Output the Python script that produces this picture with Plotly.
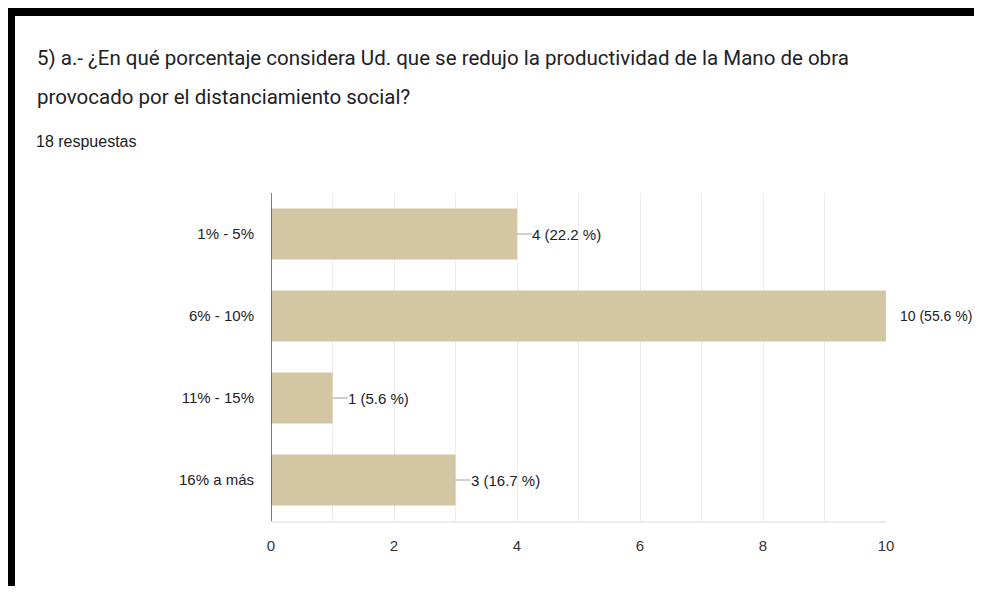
import plotly.graph_objects as go

categories = ["1% - 5%", "6% - 10%", "11% - 15%", "16% a más"]
counts = [4, 10, 1, 3]
percents = [22.2, 55.6, 5.6, 16.7]
x_ticks = [0, 2, 4, 6, 8, 10]

title_line1 = "5) a.- ¿En qué porcentaje considera Ud. que se redujo la productividad de la Mano de obra"
title_line2 = "provocado por el distanciamiento social?"
subtitle = "18 respuestas"

# the page body has an 8px margin, so the figure is drawn at (8, 8)
OFF = 8
W, H = 982 - 2 * OFF, 594 - 2 * OFF
L, R, T, B = 271 - OFF, 982 - 886 - OFF, 193 - OFF, 594 - 521 - OFF
pw, ph = W - L - R, H - T - B


def px(x):
    return (x - OFF - L) / pw


def py(y):
    return (H - B - (y - OFF)) / ph


arial = "Liberation Sans, Arial, sans-serif"
bar_color = "#d3c6a3"

fig = go.Figure()

fig.add_trace(go.Bar(
    x=counts,
    y=categories,
    orientation="h",
    width=0.62,
    marker=dict(color=bar_color, line=dict(width=0)),
    hoverinfo="skip",
))

# leader lines and value labels (the longest bar's label sits at the page edge)
for cat, c, p in zip(categories, counts, percents):
    last = c == max(counts)
    fig.add_shape(
        type="line", xref="x", yref="y", xsizemode="pixel",
        xanchor=c, x0=0, x1=3 if last else 15, y0=cat, y1=cat,
        line=dict(color="#9e9e9e", width=1),
    )
    fig.add_annotation(
        x=c, y=cat, xref="x", yref="y",
        text=f"{c} ({p} %)", showarrow=False,
        xanchor="left", xshift=12 if last else 13,
        font=dict(family=arial, size=14 if last else 15, color="#222222"),
    )

# titles
fig.add_annotation(x=px(35), y=py(58), xref="paper", yref="paper", text=title_line1,
                   showarrow=False, xanchor="left", yanchor="middle",
                   font=dict(family="Roboto, sans-serif", size=20.5, color="#202124"))
fig.add_annotation(x=px(35), y=py(97), xref="paper", yref="paper", text=title_line2,
                   showarrow=False, xanchor="left", yanchor="middle",
                   font=dict(family="Roboto, sans-serif", size=20.5, color="#202124"))
fig.add_annotation(x=px(34), y=py(141), xref="paper", yref="paper", text=subtitle,
                   showarrow=False, xanchor="left", yanchor="middle",
                   font=dict(family=arial, size=16, color="#202124"))

# screenshot frame
fig.add_shape(type="rect", xref="paper", yref="paper",
              x0=px(5), x1=px(15), y0=py(620), y1=py(7),
              fillcolor="black", line=dict(width=0), layer="above")
fig.add_shape(type="rect", xref="paper", yref="paper",
              x0=px(5), x1=px(1000), y0=py(16), y1=py(7),
              fillcolor="black", line=dict(width=0), layer="above")

fig.update_layout(
    width=W, height=H,
    margin=dict(l=L, r=R, t=T, b=B),
    paper_bgcolor="white", plot_bgcolor="white",
    showlegend=False,
    bargap=0.38,
    xaxis=dict(
        range=[0, 10], tickvals=x_ticks, ticks="",
        showgrid=True, gridcolor="#ececec", gridwidth=1,
        minor=dict(dtick=1, showgrid=True, gridcolor="#ececec", gridwidth=1),
        zeroline=False, showline=True, linecolor="#ececec", linewidth=2,
        tickfont=dict(family=arial, size=15, color="#333333"),
        ticklabelstandoff=10, fixedrange=True,
    ),
    yaxis=dict(
        categoryorder="array", categoryarray=categories[::-1],
        showgrid=False, zeroline=False, ticks="",
        showline=False,
        tickfont=dict(family=arial, size=15, color="#222222"),
        ticklabelstandoff=16, fixedrange=True,
    ),
)

# y axis line at x=0
fig.add_shape(type="line", xref="x", yref="paper", x0=0, x1=0, y0=0, y1=1,
              line=dict(color="#555555", width=1.5), layer="above")

fig.write_html("out.html")
